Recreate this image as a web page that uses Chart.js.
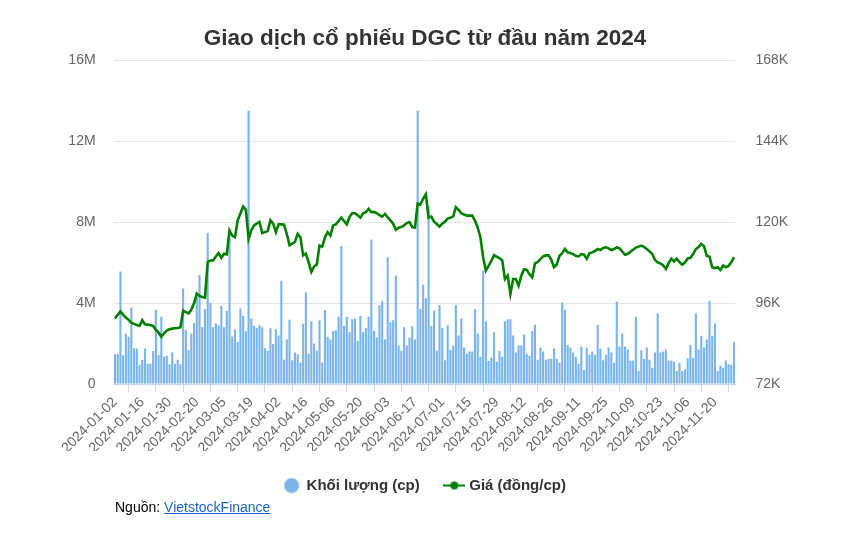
<!DOCTYPE html>
<html><head><meta charset="utf-8">
<script src="https://cdn.jsdelivr.net/npm/chart.js@4"></script>
<style>
html,body{margin:0;padding:0;background:#fff;}
#wrap{position:relative;width:850px;height:545px;}
#src{position:absolute;left:115px;top:499px;font:14px "Liberation Sans",Arial,sans-serif;color:#000;}
#src a{color:#1a64c8;text-decoration:underline;}
</style></head><body>
<div id="wrap"><canvas id="c" width="850" height="545"></canvas>
<div id="src">Nguồn: <a href="#">VietstockFinance</a></div></div>
<script>
const dates = [
"2024-01-02","2024-01-03","2024-01-04","2024-01-05","2024-01-08","2024-01-09","2024-01-10","2024-01-11","2024-01-12",
"2024-01-15","2024-01-16","2024-01-17","2024-01-18","2024-01-19","2024-01-22","2024-01-23","2024-01-24","2024-01-25","2024-01-26",
"2024-01-29","2024-01-30","2024-01-31","2024-02-01","2024-02-02","2024-02-05","2024-02-06","2024-02-07","2024-02-15","2024-02-16",
"2024-02-19","2024-02-20","2024-02-21","2024-02-22","2024-02-23","2024-02-26","2024-02-27","2024-02-28","2024-02-29","2024-03-01",
"2024-03-04","2024-03-05","2024-03-06","2024-03-07","2024-03-08","2024-03-11","2024-03-12","2024-03-13","2024-03-14","2024-03-15",
"2024-03-18","2024-03-19","2024-03-20","2024-03-21","2024-03-22","2024-03-25","2024-03-26","2024-03-27","2024-03-28","2024-03-29",
"2024-04-01","2024-04-02","2024-04-03","2024-04-04","2024-04-05","2024-04-08","2024-04-09","2024-04-10","2024-04-11","2024-04-12",
"2024-04-15","2024-04-16","2024-04-17","2024-04-19","2024-04-22","2024-04-23","2024-04-24","2024-04-25","2024-04-26",
"2024-05-02","2024-05-03","2024-05-06","2024-05-07","2024-05-08","2024-05-09","2024-05-10","2024-05-13","2024-05-14","2024-05-15",
"2024-05-16","2024-05-17","2024-05-20","2024-05-21","2024-05-22","2024-05-23","2024-05-24","2024-05-27","2024-05-28","2024-05-29",
"2024-05-30","2024-05-31","2024-06-03","2024-06-04","2024-06-05","2024-06-06","2024-06-07","2024-06-10","2024-06-11","2024-06-12",
"2024-06-13","2024-06-14","2024-06-17","2024-06-18","2024-06-19","2024-06-20","2024-06-21","2024-06-24","2024-06-25","2024-06-26",
"2024-06-27","2024-06-28","2024-07-01","2024-07-02","2024-07-03","2024-07-04","2024-07-05","2024-07-08","2024-07-09","2024-07-10",
"2024-07-11","2024-07-12","2024-07-15","2024-07-16","2024-07-17","2024-07-18","2024-07-19","2024-07-22","2024-07-23","2024-07-24",
"2024-07-25","2024-07-26","2024-07-29","2024-07-30","2024-07-31","2024-08-01","2024-08-02","2024-08-05","2024-08-06","2024-08-07",
"2024-08-08","2024-08-09","2024-08-12","2024-08-13","2024-08-14","2024-08-15","2024-08-16","2024-08-19","2024-08-20","2024-08-21",
"2024-08-22","2024-08-23","2024-08-26","2024-08-27","2024-08-28","2024-08-29","2024-08-30","2024-09-04","2024-09-05","2024-09-06",
"2024-09-09","2024-09-10","2024-09-11","2024-09-12","2024-09-13","2024-09-16","2024-09-17","2024-09-18","2024-09-19","2024-09-20",
"2024-09-23","2024-09-24","2024-09-25","2024-09-26","2024-09-27","2024-09-30","2024-10-01","2024-10-02","2024-10-03","2024-10-04",
"2024-10-07","2024-10-08","2024-10-09","2024-10-10","2024-10-11","2024-10-14","2024-10-15","2024-10-16","2024-10-17","2024-10-18",
"2024-10-21","2024-10-22","2024-10-23","2024-10-24","2024-10-25","2024-10-28","2024-10-29","2024-10-30","2024-10-31","2024-11-01",
"2024-11-04","2024-11-05","2024-11-06","2024-11-07","2024-11-08","2024-11-11","2024-11-12","2024-11-13","2024-11-14","2024-11-15",
"2024-11-18","2024-11-19","2024-11-20","2024-11-21","2024-11-22","2024-11-25","2024-11-26","2024-11-27","2024-11-28","2024-11-29"
];

// Khối lượng (triệu cp)
const volumeM = [
1.47,1.5,5.55,1.42,2.5,2.33,3.78,1.77,1.75,0.94,
1.19,1.75,1.0,1.0,1.63,3.67,1.42,3.32,1.34,1.4,
0.97,1.55,1.0,1.2,0.97,4.72,2.67,1.67,2.5,3.0,
4.3,5.38,2.8,3.7,7.46,4.0,2.8,3.0,2.9,3.86,
2.8,3.6,7.25,2.35,2.7,2.08,3.73,3.37,2.6,13.5,
3.24,2.88,2.77,2.9,2.8,1.77,1.64,2.75,1.97,2.7,
2.4,5.1,1.2,2.2,3.17,1.17,1.55,1.47,1.06,2.97,
4.52,1.5,3.1,2.0,1.64,3.15,1.06,3.65,2.33,2.2,
2.62,2.65,3.32,6.82,2.87,3.32,2.55,3.2,3.23,2.13,
3.36,2.55,2.77,3.32,7.13,2.62,2.3,3.9,4.1,2.2,
6.26,3.06,3.15,5.35,1.9,1.64,2.8,1.9,2.3,2.87,
2.2,13.5,3.7,4.9,4.24,8.8,2.87,3.62,1.64,3.9,
2.77,1.17,2.9,1.69,1.9,3.9,2.4,3.24,1.8,1.5,
1.6,1.6,3.7,2.5,1.34,5.6,3.1,1.13,1.3,2.55,
1.1,1.64,1.34,3.1,3.2,3.2,2.4,1.55,1.9,1.9,
2.43,1.5,1.4,2.62,2.92,1.2,1.8,1.6,1.2,1.25,
1.25,1.75,1.25,1.05,4.03,3.67,1.93,1.8,1.55,1.35,
1.0,1.85,0.69,1.8,1.45,1.6,1.45,2.92,1.75,1.17,
1.45,1.8,1.55,1.05,4.08,1.85,2.5,1.85,1.7,1.15,
1.16,3.32,0.64,1.67,1.23,1.8,1.2,0.8,1.55,3.48,
1.55,1.6,1.7,1.16,1.16,1.1,0.64,1.05,0.64,0.73,
1.26,1.93,1.3,3.5,1.7,2.38,1.8,2.2,4.1,2.38,
3.0,0.64,0.9,0.8,1.16,0.98,0.95,2.08
];

// Giá (nghìn đồng/cp)
const priceK = [
91.4,92.5,93.5,92.5,91.7,91.0,90.2,89.8,89.5,89.2,
90.9,89.7,89.6,89.4,89.2,88.0,87.2,86.0,87.0,87.8,
88.2,88.4,88.5,88.6,88.8,93.7,93.3,92.9,94.0,96.0,
98.8,98.1,97.8,97.6,108.1,108.6,108.6,109.8,110.8,109.4,
110.6,110.4,117.5,116.0,115.5,120.5,122.5,124.6,123.6,115.0,
117.5,119.0,119.5,120.0,116.7,117.0,117.3,120.5,119.5,117.0,
119.3,119.3,119.2,116.5,113.1,113.6,114.1,116.5,115.5,110.1,
110.6,108.1,105.2,106.8,107.4,113.0,112.7,115.5,117.0,116.0,
119.0,119.3,120.3,121.3,120.3,119.3,121.5,122.6,122.6,122.0,
121.3,122.6,122.9,123.9,122.9,123.0,122.6,122.0,121.6,122.4,
121.4,120.5,119.5,117.7,118.3,118.5,119.0,119.7,120.0,118.5,
118.3,125.5,125.2,126.9,128.2,121.3,121.6,120.1,119.4,118.6,
119.5,120.1,121.0,121.3,121.6,124.4,123.6,122.6,122.2,121.9,
121.9,121.9,120.4,118.4,115.5,109.5,105.6,107.0,108.5,110.2,
109.7,109.3,108.7,103.1,104.1,98.7,103.1,103.1,101.1,104.1,
106.0,105.8,104.5,103.6,107.8,108.1,109.0,109.8,110.1,110.1,
108.8,106.6,107.4,110.0,110.8,112.0,111.0,110.8,110.5,110.0,
109.8,110.5,110.3,109.1,110.7,111.0,111.4,112.0,111.7,112.3,
112.5,112.2,111.7,112.0,112.5,112.2,111.3,110.3,110.5,111.2,
111.8,112.4,112.7,113.0,112.6,112.0,111.3,110.5,108.8,108.0,
107.7,107.2,106.1,107.8,109.1,108.3,109.1,108.1,107.4,108.0,
109.2,109.4,110.5,112.0,112.6,113.5,112.8,110.0,109.7,106.6,
106.3,106.6,105.8,107.1,106.6,107.0,108.1,109.6
];

const volumeTicks = [0, 4, 8, 12, 16];       // triệu cp
const priceTicks = [72, 96, 120, 144, 168];  // nghìn đồng
const labelEvery = 10;

const BLUE = '#7cb5ec', GREEN = '#008000';
Chart.defaults.font.family = '"Liberation Sans", Arial, Helvetica, sans-serif';

function circleIcon(){
  const c=document.createElement('canvas');c.width=16;c.height=16;
  const g=c.getContext('2d');g.fillStyle=BLUE;g.beginPath();g.arc(8,8,7.5,0,Math.PI*2);g.fill();return c;
}
function lineIcon(){
  const c=document.createElement('canvas');c.width=22;c.height=10;
  const g=c.getContext('2d');g.strokeStyle=GREEN;g.lineWidth=2;g.beginPath();g.moveTo(0,5);g.lineTo(22,5);g.stroke();
  g.fillStyle=GREEN;g.beginPath();g.arc(11,5,4,0,Math.PI*2);g.fill();return c;
}
const icons=[circleIcon(),lineIcon()];

new Chart(document.getElementById('c'), {
  data: {
    labels: dates,
    datasets: [
      { type:'bar', label:'Khối lượng (cp)', data: volumeM, yAxisID:'y', backgroundColor: BLUE,
        barPercentage: 0.78, categoryPercentage: 1.0, order: 1 },
      { type:'line', label:'Giá (đồng/cp)', data: priceK, yAxisID:'y1', borderColor: GREEN, backgroundColor: GREEN,
        borderWidth: 2.6, pointRadius: 0, tension: 0, order: 0 }
    ]
  },
  options: {
    responsive:false, animation:false, devicePixelRatio:1,
    layout:{ padding:{ left:0, right:0, top:0, bottom:42 } },
    plugins:{
      tooltip:{enabled:false},
      title:{ display:true, text:'Giao dịch cổ phiếu DGC từ đầu năm 2024', color:'#333333',
        font:{size:22.5, weight:'bold'}, padding:{top:25, bottom:8} },
      legend:{ position:'bottom',
        labels:{ usePointStyle:true, boxWidth:16, boxHeight:15, padding:27, color:'#333333',
          font:{size:15, weight:'bold'},
          generateLabels(chart){
            const items = Chart.defaults.plugins.legend.labels.generateLabels(chart);
            items.forEach(it=>{ it.pointStyle = icons[it.datasetIndex]; });
            return items;
          },
          sort:(a,b)=>a.datasetIndex-b.datasetIndex }
      }
    },
    scales:{
      x:{ offset:true,
        grid:{ display:true, drawOnChartArea:false, drawTicks:true, tickLength:8, color:'#ccd6eb' },
        border:{ display:true, color:'#ccd6eb' },
        ticks:{ autoSkip:false, minRotation:45, maxRotation:45, color:'#666666', font:{size:14}, padding:2,
          callback(v,i){ return i % labelEvery === 0 ? dates[i] : null; } },
        afterFit(s){ s.height = 67; }
      },
      y:{ position:'left', min:volumeTicks[0], max:volumeTicks[volumeTicks.length-1],
        grid:{ color:'#e6e6e6', drawTicks:false }, border:{display:false},
        ticks:{ stepSize: volumeTicks[1]-volumeTicks[0], color:'#666666', font:{size:14}, padding:18,
          callback:v => v===0 ? '0' : v + 'M' },
        afterFit(s){ s.width = 113.6; }
      },
      y1:{ position:'right', min:priceTicks[0], max:priceTicks[priceTicks.length-1],
        grid:{ display:false, drawTicks:false }, border:{display:false},
        ticks:{ stepSize: priceTicks[1]-priceTicks[0], color:'#666666', font:{size:14}, padding:20,
          callback:v => v + 'K' },
        afterFit(s){ s.width = 114.6; }
      }
    }
  }
});
</script>
</body></html>
